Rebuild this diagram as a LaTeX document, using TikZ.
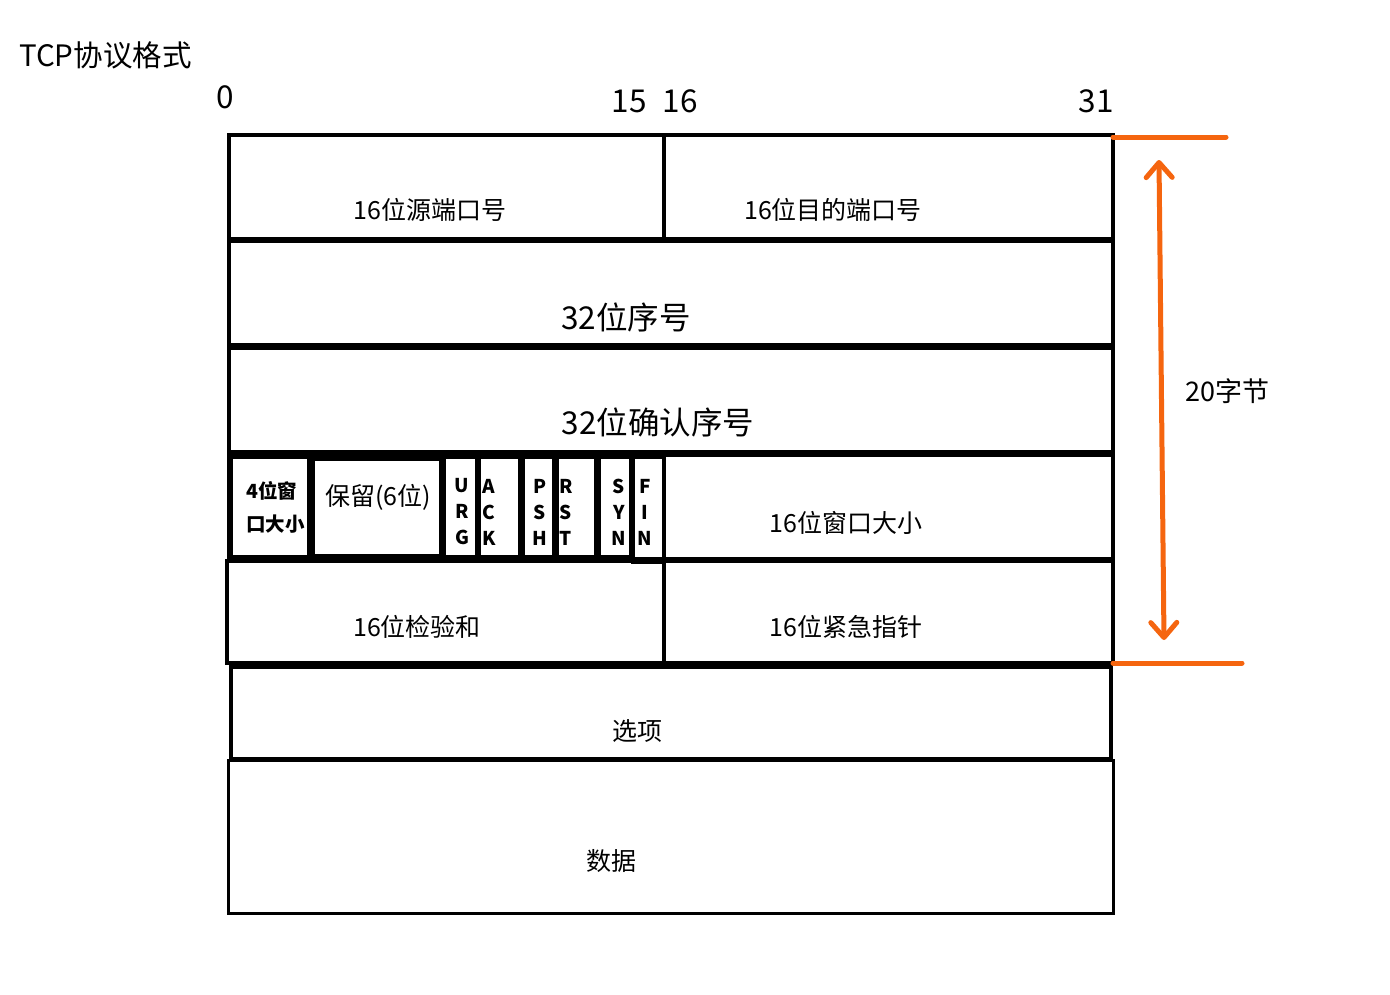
\documentclass[tikz,border=0pt]{standalone}
\usepackage{fontspec}
\setmainfont{Noto Sans CJK SC}
\usetikzlibrary{arrows.meta}
\definecolor{org}{HTML}{F5650F}
\begin{document}
\begin{tikzpicture}[x=1pt,y=-1pt,
  cell/.style={draw=black,line width=3.5pt},
  thick cell/.style={draw=black,line width=4.5pt},
  lbl/.style={inner sep=0pt,font=\fontsize{25}{28}\selectfont},
  big/.style={inner sep=0pt,font=\fontsize{31.5}{36}\selectfont},
  flag/.style={inner sep=0pt,font=\fontsize{19}{26}\selectfont\bfseries,align=center},
  org line/.style={draw=org,line width=5pt,line cap=round}]
\useasboundingbox (0,0) rectangle (1390,994);
% title and bit numbers
\node[inner sep=0pt,anchor=west,font=\fontsize{29.5}{32}\selectfont] (title) at (19,55) {TCP协议格式};
\node[big] (b0) at (225,97) {0};
\node[big] (b15) at (629,101) {15};
\node[big] (b16) at (680,101) {16};
\node[big] (b31) at (1096,101) {31};
% row 1
\draw[cell] (229,135) rectangle (1113,239);
\draw[cell] (664,135) -- (664,239);
\node[lbl] (sport) at (430,210) {16位源端口号};
\node[lbl] (dport) at (833,210) {16位目的端口号};
% row 2
\draw[thick cell] (229,241) rectangle (1113,345);
\node[big] (seq) at (626,317) {32位序号};
% row 3
\draw[thick cell] (229,348) rectangle (1113,452);
\node[big] (ack) at (658,422) {32位确认序号};
% row 4
\draw[cell] (229,455) rectangle (1113,559);
\draw[cell] (231,457) rectangle (309,557);
\draw[cell] (313,459) rectangle (441,556);
\draw[cell] (444,457) rectangle (477,557);
\draw[cell] (479,457) rectangle (520,557);
\draw[cell] (523,457) rectangle (554,557);
\draw[cell] (557,457) rectangle (596,557);
\draw[cell] (599,457) rectangle (631,557);
\draw[cell] (633,457) rectangle (664,562);
\node[flag,align=left,font=\fontsize{19.5}{33}\selectfont\bfseries,anchor=west] (hl) at (246,507) {4位窗\\口大小};
\node[lbl] (rsv) at (378,497) {保留(6位)};
\node[flag] (urg) at (462,512) {U\\R\\G};
\node[flag] (ackf) at (489,512) {A\\C\\K};
\node[flag] (psh) at (540,512) {P\\S\\H};
\node[flag] (rst) at (566,512) {R\\S\\T};
\node[flag] (syn) at (619,512) {S\\Y\\N};
\node[flag] (fin) at (645,512) {F\\I\\N};
\node[lbl] (win) at (846,523) {16位窗口大小};
% row 5
\draw[cell] (227,561) rectangle (1113,663);
\draw[cell] (664,561) -- (664,663);
\node[lbl] (csum) at (417,627) {16位检验和};
\node[lbl] (urgp) at (846,627) {16位紧急指针};
% row 6
\draw[thick cell] (231,667) rectangle (1111,759);
\node[lbl] (opt) at (637,731) {选项};
% row 7
\draw[line width=3pt] (228,760) rectangle (1113,913);
\node[lbl] (data) at (611,861) {数据};
% orange marker
\coordinate (t1) at (1113,137);
\coordinate (t2) at (1226,137);
\coordinate (u1) at (1113,663);
\coordinate (u2) at (1242,663);
\coordinate (a1) at (1159,160);
\coordinate (a2) at (1164,640);
\draw[org line] (t1) -- (t2);
\draw[org line] (u1) -- (u2);
\draw[org line,{Straight Barb[length=15pt,width=26pt,round]}-{Straight Barb[length=15pt,width=26pt,round]}] (a1) -- (a2);
\node[inner sep=0pt,anchor=west,font=\fontsize{27}{30}\selectfont] (size) at (1185,391) {20字节};
\end{tikzpicture}
\end{document}
